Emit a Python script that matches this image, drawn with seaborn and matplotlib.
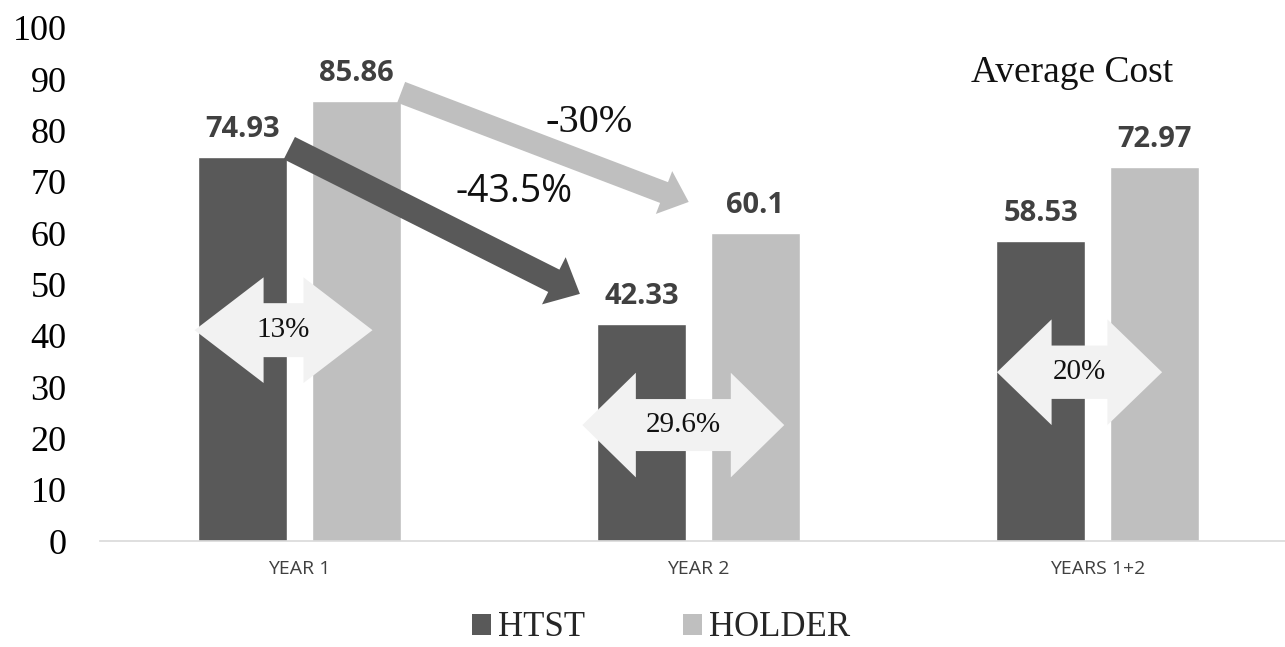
import seaborn as sns
import matplotlib.pyplot as plt
import matplotlib.patches as mpatches
import pandas as pd

# data
periods = ["YEAR 1", "YEAR 2", "YEARS 1+2"]
htst = [74.93, 42.33, 58.53]
holder = [85.86, 60.1, 72.97]
methods = ["HTST", "HOLDER"]
colors = ["#595959", "#bfbfbf"]

# change labels
trend_htst = "-43.5%"
trend_holder = "-30%"
gaps = ["13%", "29.6%", "20%"]

df = pd.DataFrame({
    "period": periods * 2,
    "cost": htst + holder,
    "method": [methods[0]] * 3 + [methods[1]] * 3,
})

sns.set_style("white")
serif = ["Liberation Serif", "DejaVu Serif"]
sans = ["Open Sans", "DejaVu Sans"]

fig = plt.figure(figsize=(12.85, 6.47), dpi=100)
ax = fig.add_axes([100 / 1285, 106 / 647, 1185 / 1285, 513 / 647])

sns.barplot(data=df, x="period", y="cost", hue="method", palette=colors,
            width=0.571, gap=0.22, saturation=1, legend=False, ax=ax)

ax.set_xlim(-0.5, 2.47)
ax.set_ylim(0, 100)
ax.set_yticks(range(0, 101, 10))
ax.set_xlabel("")
ax.set_ylabel("")
for s in ["top", "right", "left"]:
    ax.spines[s].set_visible(False)
ax.spines["bottom"].set_color("#d9d9d9")
ax.spines["bottom"].set_linewidth(1.2)
ax.tick_params(axis="y", length=0, pad=24)
ax.tick_params(axis="x", length=0, pad=14)
for t in ax.get_yticklabels():
    t.set_fontfamily(serif)
    t.set_fontsize(26)
    t.set_color("black")
for t in ax.get_xticklabels():
    t.set_fontfamily(sans)
    t.set_fontsize(14)
    t.set_color("#404040")

# value labels above bars
for c in ax.containers:
    ax.bar_label(c, padding=9, fontsize=21, fontweight="bold", color="#404040",
                 family=sans)

# trend arrows from year 1 to year 2
bw = 0.2227
off = 0.143
dark = mpatches.FancyArrowPatch((0 - off + bw / 2, htst[0] + 1.9), (1 - 0.291, htst[1] + 5.6),
                                arrowstyle="simple,head_length=21,head_width=38,tail_width=18",
                                mutation_scale=1, fc=colors[0], ec="none", zorder=4)
light = mpatches.FancyArrowPatch((0 + off + bw / 2 - 0.006, holder[0] + 1.8), (1 - 0.018, holder[1] + 5.8),
                                 arrowstyle="simple,head_length=19,head_width=33,tail_width=16",
                                 mutation_scale=1, fc=colors[1], ec="none", zorder=4)
ax.add_patch(dark)
ax.add_patch(light)
ax.text(0.539, 68.0, trend_htst, fontsize=27, family=sans, color="#111111",
        ha="center", va="center", zorder=5)
ax.text(0.727, 81.5, trend_holder, fontsize=29, family=serif, color="#111111",
        ha="center", va="center", zorder=5)


def darrow(xc, yc, half_len, head_len, shaft_h, head_h, label):
    verts = [(xc - half_len, yc),
             (xc - half_len + head_len, yc + head_h),
             (xc - half_len + head_len, yc + shaft_h),
             (xc + half_len - head_len, yc + shaft_h),
             (xc + half_len - head_len, yc + head_h),
             (xc + half_len, yc),
             (xc + half_len - head_len, yc - head_h),
             (xc + half_len - head_len, yc - shaft_h),
             (xc - half_len + head_len, yc - shaft_h),
             (xc - half_len + head_len, yc - head_h)]
    ax.add_patch(mpatches.Polygon(verts, closed=True, fc="#f2f2f2", ec="none", zorder=3))
    ax.text(xc, yc, label, fontsize=21, family=serif, color="#111111",
            ha="center", va="center", zorder=5)


# gap between HTST and HOLDER for each period
darrow(0 - 0.04, 41.1, 0.223, 0.173, 5.26, 10.3, gaps[0])
darrow(1 - 0.038, 22.6, 0.253, 0.134, 5.07, 10.2, gaps[1])
darrow(2 - 0.045, 32.9, 0.207, 0.137, 5.2, 10.3, gaps[2])

ax.text(1.937, 89.5, "Average Cost", fontsize=27, family=serif, color="#111111",
        ha="center", va="baseline")

handles = [mpatches.Patch(facecolor=colors[i], edgecolor="none", label=methods[i]) for i in range(2)]
fig.legend(handles=handles, loc="center", bbox_to_anchor=(661 / 1285, 1 - 628 / 647),
           ncol=2, frameon=False, prop={"family": serif, "size": 25},
           handlelength=0.55, handleheight=0.55, handletextpad=0.2, columnspacing=2.8,
           borderpad=0.1)

fig.savefig("out.png", dpi=100)
